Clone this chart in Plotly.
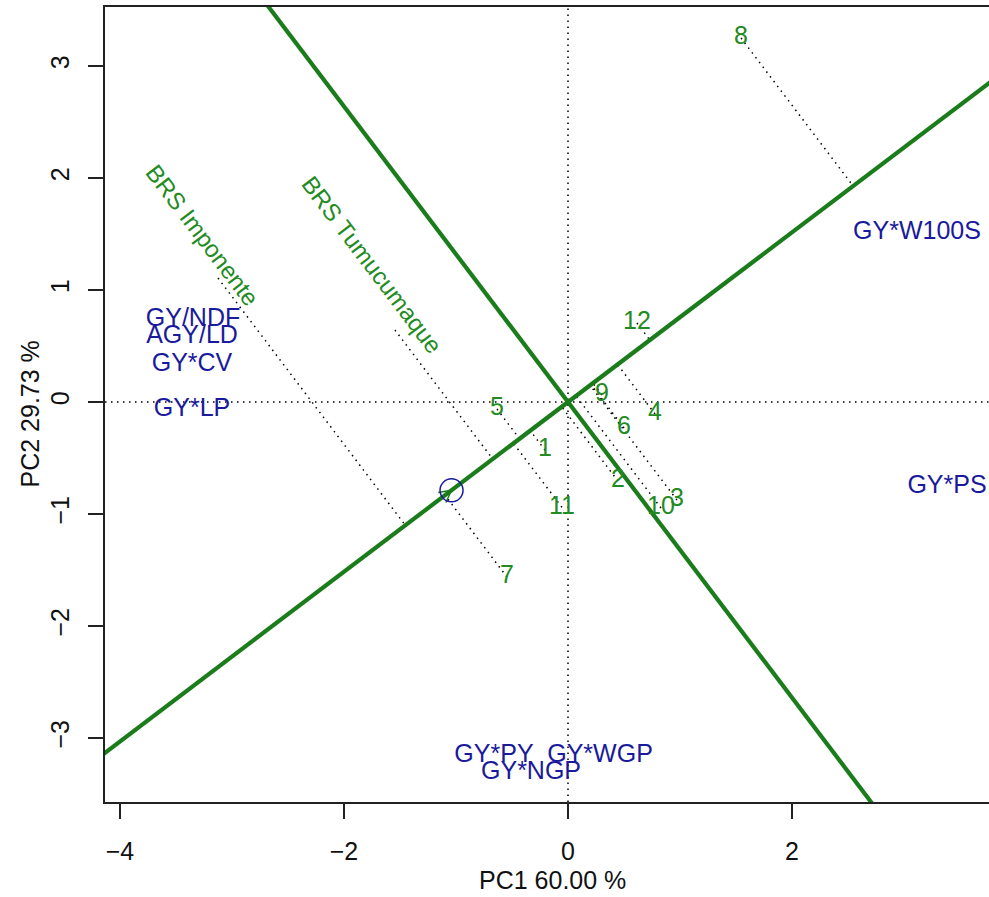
import numpy as np
import plotly.graph_objects as go

# ---- data ----
gen_labels = ["1", "2", "3", "4", "5", "6", "7", "8", "9", "10", "11", "12"]
gen_x = [-0.205, 0.446, 0.973, 0.777, -0.634, 0.50, -0.545, 1.545, 0.304, 0.83, -0.054, 0.616]
gen_y = [-0.43, -0.705, -0.875, -0.107, -0.0625, -0.232, -1.5625, 3.25, 0.0625, -0.946, -0.94, 0.705]

check_labels = ["BRS Imponente", "BRS Tumucumaque"]
check_x = [-3.125, -1.545]          # point (start of dotted line)
check_y = [1.107, 0.643]
check_lab_x = [-3.26, -1.75]        # label centre
check_lab_y = [1.49, 1.23]

env_labels = ["GY*W100S", "GY*PS", "GY/NDF", "AGY/LD", "GY*CV", "GY*LP",
              "GY*PY", "GY*WGP", "GY*NGP"]
env_x = [3.116, 3.384, -3.348, -3.357, -3.357, -3.357, -0.661, 0.286, -0.330]
env_y = [1.509, -0.759, 0.732, 0.580, 0.330, -0.071, -3.161, -3.161, -3.313]

avg_env = (-1.04, -0.788)

x_ticks = [-4, -2, 0, 2]
y_ticks = [-3, -2, -1, 0, 1, 2, 3]
x_range = [-4.134, 3.759]
y_range = [-3.571, 3.527]
x_title = "PC1 60.00 %"
y_title = "PC2 29.73 %"

GREEN_LINE = "#1a7c1a"
GREEN_TEXT = "#228b22"
BLUE = "#1a1a9c"
FONT = "Liberation Sans, Arial, Helvetica, sans-serif"
FS = 25

ax_, ay_ = avg_env
norm = np.hypot(ax_, ay_)
ux, uy = ax_ / norm, ay_ / norm

fig = go.Figure()

# dotted projections to the average-environment axis
px, py = [], []
for x, y in zip(gen_x + check_x, gen_y + check_y):
    d = x * ux + y * uy
    px += [x, d * ux, None]
    py += [y, d * uy, None]
fig.add_trace(go.Scatter(x=px, y=py, mode="lines",
                         line=dict(color="black", width=1.5, dash="1.5px,4.5px"),
                         hoverinfo="skip", showlegend=False))

# AEA line and its perpendicular through origin
L = 20
fig.add_trace(go.Scatter(x=[-L * ux, L * ux], y=[-L * uy, L * uy], mode="lines",
                         line=dict(color=GREEN_LINE, width=4.2), hoverinfo="skip", showlegend=False))
fig.add_trace(go.Scatter(x=[L * uy, -L * uy], y=[-L * ux, L * ux], mode="lines",
                         line=dict(color=GREEN_LINE, width=4.2), hoverinfo="skip", showlegend=False))

# small open arrow head at average environment
ah = 0.12
ang = np.deg2rad(28)
bx, by = -ux, -uy
hx, hy = [], []
for s in (ang, -ang):
    cx = bx * np.cos(s) - by * np.sin(s)
    cy = bx * np.sin(s) + by * np.cos(s)
    hx += [ax_, ax_ - ah * cx, None]
    hy += [ay_, ay_ - ah * cy, None]
fig.add_trace(go.Scatter(x=hx, y=hy, mode="lines", line=dict(color=GREEN_LINE, width=1.5),
                         hoverinfo="skip", showlegend=False))

# average environment circle
fig.add_trace(go.Scatter(x=[ax_], y=[ay_], mode="markers",
                         marker=dict(symbol="circle-open", size=23, color=BLUE, line=dict(width=1.5)),
                         hoverinfo="skip", showlegend=False))

# genotype labels
fig.add_trace(go.Scatter(x=gen_x, y=gen_y, mode="text", text=gen_labels,
                         textposition="middle center",
                         textfont=dict(family=FONT, size=FS, color=GREEN_TEXT),
                         hoverinfo="skip", showlegend=False))

# environment / trait labels
fig.add_trace(go.Scatter(x=env_x, y=env_y, mode="text", text=env_labels,
                         textposition="middle center", cliponaxis=False,
                         textfont=dict(family=FONT, size=FS, color=BLUE),
                         hoverinfo="skip", showlegend=False))

# text angle along the perpendicular line (screen degrees, clockwise)
pxd, pyd = -uy, ux
if pxd < 0:
    pxd, pyd = -pxd, -pyd
text_angle = float(np.degrees(np.arctan2(-pyd, pxd)))

annotations = []
for lab, x, y in zip(check_labels, check_lab_x, check_lab_y):
    annotations.append(dict(x=x, y=y, xref="x", yref="y", text=lab, showarrow=False,
                            textangle=text_angle,
                            font=dict(family=FONT, size=24, color=GREEN_TEXT)))

annotations.append(dict(x=0.5, y=0, xref="paper", yref="paper", text=x_title, showarrow=False,
                        xanchor="center", yanchor="middle", yshift=-78, xshift=5,
                        font=dict(family=FONT, size=FS, color="#111")))
annotations.append(dict(x=0, y=0.5, xref="paper", yref="paper", text=y_title, showarrow=False,
                        xanchor="center", yanchor="middle", xshift=-76, yshift=-10, textangle=-90,
                        font=dict(family=FONT, size=FS, color="#111")))

shapes = [
    dict(type="line", xref="x", yref="paper", x0=0, x1=0, y0=0, y1=1, layer="below",
         line=dict(color="black", width=1.5, dash="1.5px,4.5px")),
    dict(type="line", xref="paper", yref="y", x0=0, x1=1, y0=0, y1=0, layer="below",
         line=dict(color="black", width=1.5, dash="1.5px,4.5px")),
]

fig.update_layout(
    width=989, height=897,
    margin=dict(l=105, r=0, t=7, b=95),
    paper_bgcolor="white", plot_bgcolor="white",
    annotations=annotations, shapes=shapes,
    font=dict(family=FONT, size=FS, color="#111"),
    xaxis=dict(range=x_range, tickvals=x_ticks, ticktext=[str(v).replace("-", "\u2212") for v in x_ticks],
               showgrid=False, zeroline=False, showline=True, mirror=True,
               linecolor="#222", linewidth=1.5, ticks="outside", ticklen=15, tickwidth=1.5,
               tickcolor="#222", ticklabelstandoff=11,
               tickfont=dict(family=FONT, size=FS, color="#111")),
    yaxis=dict(range=y_range, tickvals=y_ticks, ticktext=[str(v).replace("-", "\u2212") for v in y_ticks],
               showgrid=False, zeroline=False, showline=True, mirror=False,
               linecolor="#222", linewidth=1.5, ticks="outside", ticklen=15, tickwidth=1.5,
               tickcolor="#222", tickangle=-90, ticklabelstandoff=9,
               tickfont=dict(family=FONT, size=FS, color="#111")),
)

fig.write_html("out.html", config={"displayModeBar": False},
               post_script="document.body.style.margin='0px';"
                           "document.documentElement.style.overflow='hidden';")
